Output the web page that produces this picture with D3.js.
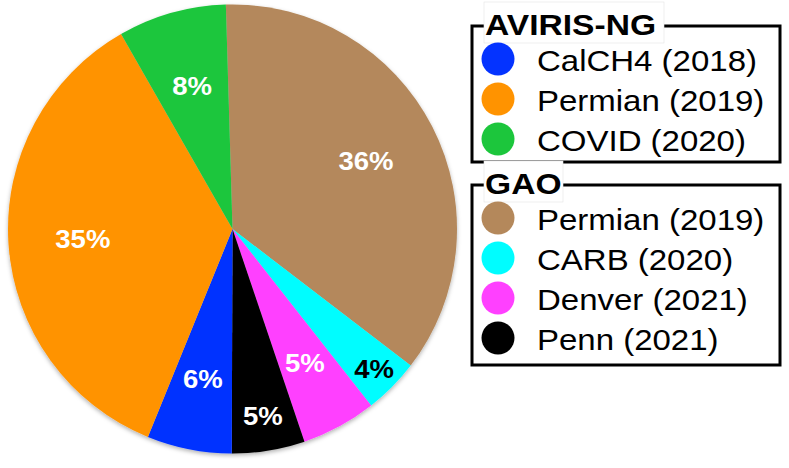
<!DOCTYPE html>
<html>
<head>
<meta charset="utf-8">
<script src="https://cdn.jsdelivr.net/npm/d3@7"></script>
<style>
  body { margin: 0; background: #fff; }
  text { font-family: "Liberation Sans", Arial, Helvetica, sans-serif; }
</style>
</head>
<body>
<div id="chart"></div>
<script>
// data, in drawing order (clockwise from 12 o'clock)
var campaigns   = ["Permian (2019)", "CARB (2020)", "Denver (2021)", "Penn (2021)", "CalCH4 (2018)", "Permian (2019)", "COVID (2020)"];
var instruments = ["GAO", "GAO", "GAO", "GAO", "AVIRIS-NG", "AVIRIS-NG", "AVIRIS-NG"];
var shares      = [35.9, 4.0, 5.4, 5.25, 6.1, 35.6, 7.8];
var shareLabels = ["36%", "4%", "5%", "5%", "6%", "35%", "8%"];
var colors      = ["#b4885b", "#00fdff", "#ff40ff", "#000000", "#0433ff", "#ff9300", "#1cc63c"];
var labelColors = ["#fff", "#000", "#fff", "#fff", "#fff", "#fff", "#fff"];
var groups      = ["AVIRIS-NG", "GAO"];

var width = 789, height = 468;
var cx = 232.5, cy = 229, radius = 224.5;
var startDeg = -1.7;

var svg = d3.select("#chart")
  .append("svg")
    .attr("width", width)
    .attr("height", height);

// soft shadow under the pie
var defs = svg.append("defs");
var f = defs.append("filter").attr("id", "shadow")
  .attr("x", "-10%").attr("y", "-10%").attr("width", "120%").attr("height", "120%");
f.append("feDropShadow")
  .attr("dx", 0).attr("dy", 2).attr("stdDeviation", 2)
  .attr("flood-color", "#000").attr("flood-opacity", 0.3);

var data = shares.map(function(v, i) {
  return {name: campaigns[i], group: instruments[i], value: v, label: shareLabels[i],
          color: colors[i], labelColor: labelColors[i]};
});

var pie = d3.pie()
  .sort(null)
  .startAngle(startDeg * Math.PI / 180)
  .endAngle(startDeg * Math.PI / 180 + 2 * Math.PI)
  .value(function(d) { return d.value; });

var arc = d3.arc()
  .innerRadius(0)
  .outerRadius(radius);

var g = svg.append("g")
  .attr("transform", "translate(" + cx + "," + cy + ")");

g.append("g")
  .attr("filter", "url(#shadow)")
  .selectAll("path")
  .data(pie(data))
  .enter()
  .append("path")
    .attr("d", arc)
    .attr("fill", function(d) { return d.data.color; });

// small slices get their labels pushed out a bit
var labelRadius = [150, 199, 152, 189, 153, 150, 149];

g.selectAll(".pct")
  .data(pie(data))
  .enter()
  .append("text")
    .attr("class", "pct")
    .attr("transform", function(d, i) {
      var a = (d.startAngle + d.endAngle) / 2;
      var r = labelRadius[i];
      return "translate(" + (r * Math.sin(a)) + "," + (-r * Math.cos(a)) + ") scale(1.1,1)";
    })
    .attr("dy", "0.36em")
    .attr("text-anchor", "middle")
    .attr("font-size", 25)
    .attr("font-weight", "bold")
    .attr("fill", function(d) { return d.data.labelColor; })
    .text(function(d) { return d.data.label; });

// legends
var boxes = [
  {top: 26, bottom: 162, titleW: 180},
  {top: 185, bottom: 365, titleW: 79}
];
var boxLeft = 472, boxRight = 780, rowH = 40;

groups.forEach(function(grp, k) {
  var b = boxes[k];
  var items = data.filter(function(d) { return d.group === grp; });
  var lg = svg.append("g");

  lg.append("rect")
    .attr("x", boxLeft).attr("y", b.top)
    .attr("width", boxRight - boxLeft).attr("height", b.bottom - b.top)
    .attr("fill", "#fff")
    .attr("stroke", "#000")
    .attr("stroke-width", 3);

  lg.append("rect")
    .attr("x", boxLeft + 12).attr("y", b.top - 24)
    .attr("width", b.titleW).attr("height", 41)
    .attr("fill", "#fff")
    .attr("stroke", "#e4e4e4")
    .attr("stroke-width", 0.6);

  lg.append("text")
    .attr("transform", "translate(" + (boxLeft + 13) + "," + (b.top + 9) + ") scale(1.12,1)")
    .attr("font-size", 30)
    .attr("font-weight", "bold")
    .attr("fill", "#000")
    .text(grp);

  var rows = lg.selectAll(".row")
    .data(items)
    .enter()
    .append("g")
      .attr("class", "row")
      .attr("transform", function(d, i) {
        return "translate(0," + (b.top + 33 + i * rowH) + ")";
      });

  rows.append("circle")
    .attr("cx", boxLeft + 26)
    .attr("cy", 0)
    .attr("r", 16.5)
    .attr("fill", function(d) { return d.color; });

  rows.append("text")
    .attr("transform", "translate(" + (boxLeft + 65) + ",12) scale(1.1,1)")
    .attr("font-size", 30)
    .attr("fill", "#000")
    .text(function(d) { return d.name; });
});
</script>
</body>
</html>
